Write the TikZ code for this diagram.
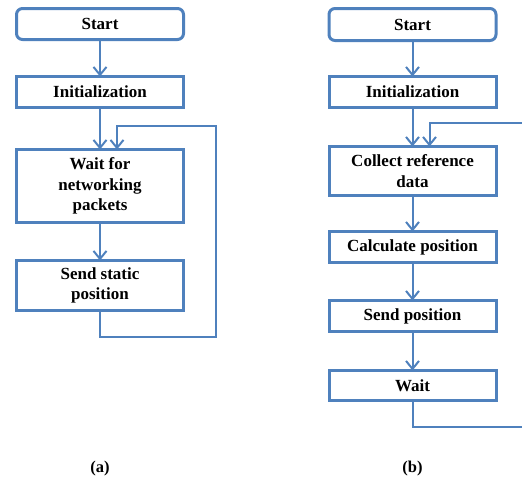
\documentclass[tikz,border=0pt]{standalone}
\usepackage{fontspec}
\setmainfont{Liberation Serif}
\usetikzlibrary{arrows.meta}
\definecolor{flowblue}{RGB}{79,129,189}
\tikzset{
  box/.style={draw=flowblue, line width=3pt, minimum width=167pt, align=center,
    font=\fontsize{17}{20.5}\selectfont\bfseries, inner sep=0pt, outer sep=0pt},
  startbox/.style={box, rounded corners=6pt},
  conn/.style={draw=flowblue, line width=2pt},
  arr/.style={conn, -{Straight Barb[length=8pt,width=13pt,line width=2pt]}},
  caption/.style={font=\fontsize{16.5}{19}\selectfont\bfseries, inner sep=0pt}
}
\begin{document}
\begin{tikzpicture}[x=1pt,y=1pt]
\useasboundingbox (0,0) rectangle (522,-482);
% (a)
\node[startbox, minimum height=31pt] (startL) at (100,-24) {Start};
\node[box, minimum height=31pt] (initL) at (100,-92) {Initialization};
\node[box, minimum height=73pt] (waitL) at (100,-186) {Wait for\\networking\\packets};
\node[box, minimum height=50pt] (sendL) at (100,-285.5) {Send static\\position};
\draw[arr] (startL.south) -- (initL.north);
\draw[arr] (initL.south) -- (waitL.north);
\draw[arr] (waitL.south) -- (sendL.north);
\coordinate (la) at (216,-337);
\coordinate (lb) at (216,-126);
\draw[arr] (sendL.south) |- (la) -- (lb) -| ([xshift=17pt]waitL.north);
\node[caption] (capa) at (100,-469) {(a)};
% (b)
\node[startbox, minimum height=32pt] (startR) at (412.5,-24.5) {Start};
\node[box, minimum height=31pt] (initR) at (412.5,-92) {Initialization};
\node[box, minimum height=49pt] (collR) at (412.5,-171) {Collect reference\\data};
\node[box, minimum height=31pt] (calcR) at (412.5,-247) {Calculate position};
\node[box, minimum height=31pt] (sendR) at (412.5,-316) {Send position};
\node[box, minimum height=30pt] (waitR) at (412.5,-385.5) {Wait};
\draw[arr] (startR.south) -- (initR.north);
\draw[arr] (initR.south) -- (collR.north);
\draw[arr] (collR.south) -- (calcR.north);
\draw[arr] (calcR.south) -- (sendR.north);
\draw[arr] (sendR.south) -- (waitR.north);
\coordinate (rt) at (522,-123);
\coordinate (rb) at (522,-427);
\draw[arr] (rt) -| ([xshift=17pt]collR.north);
\draw[conn] (waitR.south) |- (rb);
\node[caption] (capb) at (412.5,-469) {(b)};
\end{tikzpicture}
\end{document}
